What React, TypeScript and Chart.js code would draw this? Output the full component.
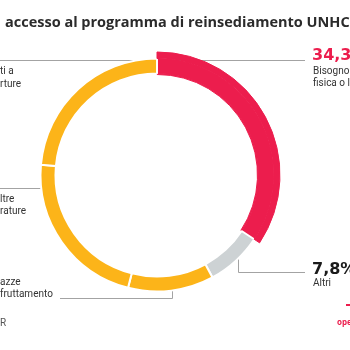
import React, { useEffect, useRef } from "react";
import { Chart, registerables } from "chart.js";

Chart.register(...registerables);

// ---- data ----
const categories = [
  "Bisogno di protezione fisica o legale",
  "Altri",
  "Donne e ragazze a rischio di sfruttamento",
  "Mancanza di altre soluzioni durature",
  "Sopravvissuti a violenza e/o torture",
];
const shares = [34.3, 7.8, 11.9, 22.4, 23.6];
const sliceColors = ["#EC1D4D", "#CDD2D4", "#FCB419", "#FCB419", "#FCB419"];
const highlightIndex = 0;
const valueLabels = ["34,3%", "7,8%"];
const titleText = "accesso al programma di reinsediamento UNHCR";
const rightLabelLines = ["Bisogno di protezione", "fisica o legale"];
const altriLabel = "Altri";
const topLeftFragments = ["ti a", "rture"];
const midLeftFragments = ["ltre", "rature"];
const bottomLeftFragments = ["azze", "fruttamento"];
const sourceFragment = "R";
const logoText = "openpolis";

const RED = "#EC1D4D";
const LINE = "#A3A3A3";
const TEXT = "#333333";

const onlyHighlight = sliceColors.map((c, i) => (i === highlightIndex ? c : "rgba(0,0,0,0)"));
const highlightBorderWidth = sliceColors.map((_, i) => (i === highlightIndex ? 1 : 0));

const labelsPlugin = {
  id: "labelsPlugin",
  beforeDatasetsDraw(chart: any) {
    const ctx = chart.ctx;
    ctx.save();
    ctx.strokeStyle = LINE;
    ctx.lineWidth = 1;
    ctx.beginPath();
    // top-left
    ctx.moveTo(0, 60.5);
    ctx.lineTo(157, 60.5);
    // top-right
    ctx.moveTo(157, 60.5);
    ctx.lineTo(305, 60.5);
    // mid-left
    ctx.moveTo(0, 188.5);
    ctx.lineTo(50, 188.5);
    // bottom-left
    ctx.moveTo(60, 298.5);
    ctx.lineTo(172.5, 298.5);
    ctx.lineTo(172.5, 280);
    // bottom-right
    ctx.moveTo(238.5, 245);
    ctx.lineTo(238.5, 272.5);
    ctx.lineTo(305, 272.5);
    ctx.stroke();
    ctx.restore();
  },
  afterDraw(chart: any) {
    const ctx = chart.ctx;
    ctx.save();
    ctx.textBaseline = "alphabetic";
    ctx.textAlign = "left";
    // title
    ctx.fillStyle = "#2b2b2b";
    ctx.font = "bold 14.5px 'Open Sans'";
    ctx.fillText(titleText, 5, 27);
    // big values
    ctx.font = "bold 16px 'DejaVu Sans'";
    ctx.fillStyle = RED;
    ctx.fillText(valueLabels[0], 312, 60);
    ctx.fillStyle = "#1a1a1a";
    ctx.fillText(valueLabels[1], 312, 274);
    // small labels
    ctx.font = "10px Roboto";
    ctx.fillStyle = TEXT;
    ctx.fillText(rightLabelLines[0], 313, 74);
    ctx.fillText(rightLabelLines[1], 313, 86);
    ctx.fillText(altriLabel, 313, 286);
    ctx.fillText(topLeftFragments[0], 0, 74);
    ctx.fillText(topLeftFragments[1], 0, 86.5);
    ctx.fillText(midLeftFragments[0], 0, 202);
    ctx.fillText(midLeftFragments[1], 0, 214);
    ctx.fillText(bottomLeftFragments[0], 0, 285);
    ctx.fillText(bottomLeftFragments[1], 0, 297);
    ctx.fillStyle = "#555";
    ctx.fillText(sourceFragment, 0, 326);
    // logo
    ctx.fillStyle = RED;
    ctx.fillRect(346, 304, 4, 2);
    ctx.font = "bold 8px 'Open Sans'";
    ctx.fillText(logoText, 337, 325);
    ctx.restore();
  },
};

export default function App() {
  const ref = useRef<HTMLCanvasElement | null>(null);
  useEffect(() => {
    if (!ref.current) return;
    const chart = new Chart(ref.current, {
      type: "doughnut",
      data: {
        labels: categories,
        datasets: [
          {
            data: shares,
            backgroundColor: onlyHighlight,
            borderColor: RED,
            borderWidth: highlightBorderWidth,
            weight: 6.5,
          },
          {
            data: shares,
            backgroundColor: sliceColors,
            borderColor: sliceColors.map((c, i) => (i === highlightIndex ? c : "#ffffff")),
            borderWidth: sliceColors.map((_, i) => (i === highlightIndex ? 1 : 2)),
            weight: 15,
          },
          {
            data: shares,
            backgroundColor: onlyHighlight,
            borderColor: RED,
            borderWidth: highlightBorderWidth,
            weight: 1,
          },
        ],
      },
      options: {
        responsive: false,
        animation: false,
        devicePixelRatio: 1,
        cutout: 100.5,
        layout: { padding: { left: 33.5, right: 69.5, top: 51.5, bottom: 51.5 } },
        plugins: {
          legend: { display: false },
          tooltip: { enabled: false },
          title: { display: false },
        },
        events: [],
      } as any,
      plugins: [labelsPlugin],
    });
    return () => chart.destroy();
  }, []);
  return (
    <div style={{ position: "absolute", left: 0, top: 0, width: 350, height: 350, background: "#fff" }}>
      <canvas ref={ref} width={350} height={350} />
    </div>
  );
}
